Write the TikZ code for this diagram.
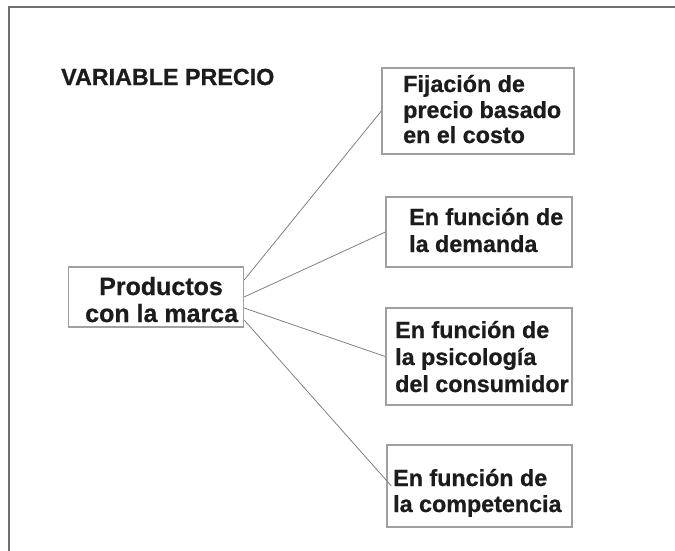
\documentclass[tikz,border=0pt]{standalone}
\usepackage{fontspec}
\setmainfont{Liberation Sans}[BoldFeatures={FakeBold=0.8}]
\definecolor{framegray}{HTML}{707070}
\definecolor{boxgray}{HTML}{A0A0A0}
\definecolor{linegray}{HTML}{808080}
\definecolor{ink}{HTML}{1C1C1C}
\tikzset{
  boxnode/.style={draw=boxgray, line width=1.3pt, rectangle, inner sep=0pt},
  txt/.style={anchor=base west, inner sep=0pt, text=ink, font=\fontsize{23.3}{26}\selectfont\bfseries},
  bigtxt/.style={anchor=base west, inner sep=0pt, text=ink, font=\fontsize{25}{28}\selectfont\bfseries},
  conn/.style={draw=linegray, line width=0.8pt},
  framel/.style={draw=framegray, line width=1.4pt}
}
\begin{document}
\begin{tikzpicture}[x=1pt,y=-1pt]
\useasboundingbox (0,0) rectangle (675,551);
% frame
\coordinate (fa) at (675,7);
\coordinate (fb) at (9,7);
\coordinate (fc) at (9,551);
\draw[framel] (fa) -- (fb) -- (fc);
% title
\node[txt] (title) at (61,85) {VARIABLE PRECIO};
% boxes
\node[boxnode, minimum width=175pt, minimum height=60pt] (prod) at (156,297) {};
\node[boxnode, minimum width=192pt, minimum height=86pt] (b1) at (478,111) {};
\node[boxnode, minimum width=186pt, minimum height=70pt] (b2) at (479,232) {};
\node[boxnode, minimum width=186pt, minimum height=97pt] (b3) at (479,356.5) {};
\node[boxnode, minimum width=185pt, minimum height=82pt] (b4) at (479.5,486) {};
% texts
\node[bigtxt] (p1) at (99,295) {Productos};
\node[bigtxt] (p2) at (85,322) {con la marca};
\node[txt] (t11) at (403,92) {Fijación de};
\node[txt] (t12) at (403,118) {precio basado};
\node[txt] (t13) at (403,143) {en el costo};
\node[txt] (t21) at (409,225) {En función de};
\node[txt] (t22) at (409,252) {la demanda};
\node[txt] (t31) at (395,338) {En función de};
\node[txt] (t32) at (395,365) {la psicología};
\node[txt] (t33) at (395,392) {del consumidor};
\node[txt] (t41) at (393,486) {En función de};
\node[txt] (t42) at (393,512) {la competencia};
% connectors
\draw[conn] ([yshift=17pt]prod.east) -- (b1.west);
\draw[conn] (prod.east) -- (b2.west);
\draw[conn] ([yshift=-11pt]prod.east) -- (b3.west);
\draw[conn] ([yshift=-23pt]prod.east) -- ([xshift=5pt]b4.west);
\end{tikzpicture}
\end{document}
